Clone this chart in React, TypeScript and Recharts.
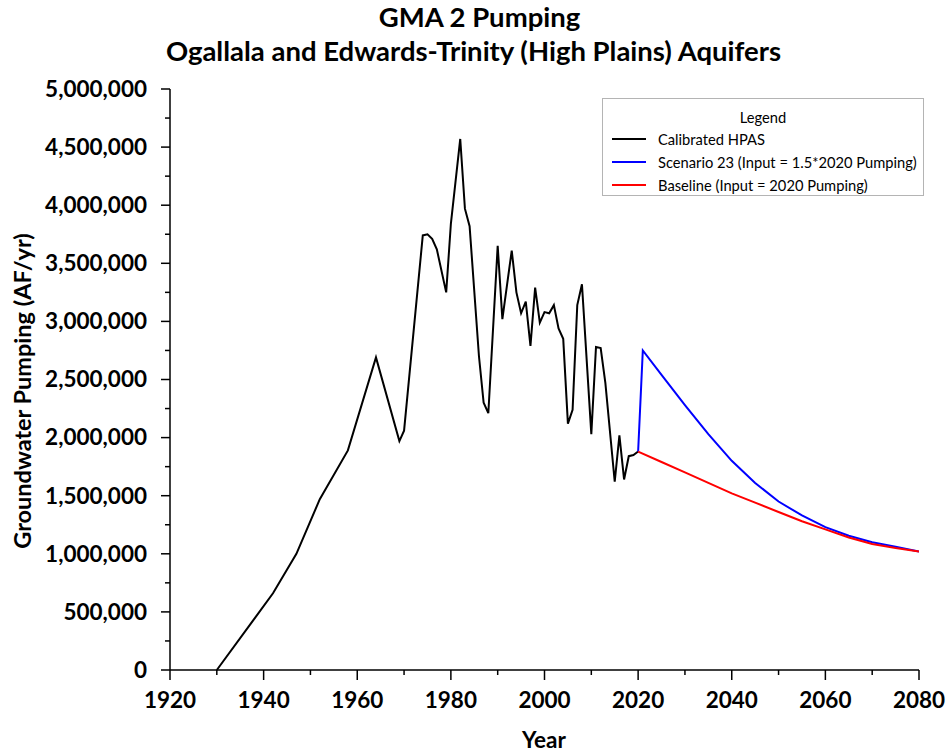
import { LineChart, Line, XAxis, YAxis, Legend } from 'recharts';

// calibrated HPAS pumping
const histYears = [1930, 1942, 1947, 1952, 1958, 1964, 1969, 1970, 1974, 1975, 1976, 1977, 1979, 1980, 1982, 1983, 1984, 1986, 1987, 1988, 1990, 1991, 1993, 1994, 1995, 1996, 1997, 1998, 1999, 2000, 2001, 2002, 2003, 2004, 2005, 2006, 2007, 2008, 2010, 2011, 2012, 2013, 2015, 2016, 2017, 2018, 2019, 2020];
const histPumping = [0, 660000, 1000000, 1470000, 1890000, 2690000, 1970000, 2060000, 3740000, 3750000, 3710000, 3620000, 3250000, 3840000, 4570000, 3970000, 3820000, 2700000, 2300000, 2210000, 3650000, 3020000, 3610000, 3250000, 3070000, 3170000, 2790000, 3290000, 2990000, 3080000, 3070000, 3140000, 2940000, 2850000, 2120000, 2240000, 3140000, 3320000, 2030000, 2780000, 2770000, 2470000, 1620000, 2020000, 1640000, 1840000, 1850000, 1880000];

const scenarioYears = [2020, 2021, 2025, 2030, 2035, 2040, 2045, 2050, 2055, 2060, 2065, 2070, 2075, 2080];
const scenarioPumping = [1880000, 2750000, 2540000, 2280000, 2030000, 1800000, 1610000, 1450000, 1330000, 1230000, 1155000, 1100000, 1060000, 1020000];

const baselineYears = [2020, 2025, 2030, 2035, 2040, 2045, 2050, 2055, 2060, 2065, 2070, 2075, 2080];
const baselinePumping = [1880000, 1790000, 1700000, 1610000, 1520000, 1440000, 1360000, 1280000, 1210000, 1140000, 1085000, 1050000, 1020000];

const xTicks = [1920, 1930, 1940, 1950, 1960, 1970, 1980, 1990, 2000, 2010, 2020, 2030, 2040, 2050, 2060, 2070, 2080];
const yTicks = [0, 250000, 500000, 750000, 1000000, 1250000, 1500000, 1750000, 2000000, 2250000, 2500000, 2750000, 3000000, 3250000, 3500000, 3750000, 4000000, 4250000, 4500000, 4750000, 5000000];

const seriesNames = ['Calibrated HPAS', 'Scenario 23 (Input = 1.5*2020 Pumping)', 'Baseline (Input = 2020 Pumping)'];
const seriesColors = ['#000000', '#0000ff', '#ff0000'];

const toRows = (years: number[], vals: number[]) => years.map((year, i) => ({ year, value: vals[i] }));

const FONT = 'Lato, "Open Sans", sans-serif';

const XTick = (props: any) => {
  const { x, y, payload } = props;
  const major = payload.value % 20 === 0;
  return (
    <g>
      <line x1={x} x2={x} y1={y} y2={y + (major ? 10 : 5)} stroke="#000" strokeWidth={1.5} />
      {major && (
        <text x={x} y={y + 38} textAnchor="middle" fontFamily={FONT} fontWeight={700} fontSize={22.5} fill="#000">
          {payload.value}
        </text>
      )}
    </g>
  );
};

const YTick = (props: any) => {
  const { x, y, payload } = props;
  const major = payload.value % 500000 === 0;
  return (
    <g>
      <line x1={x} x2={x - (major ? 9 : 5)} y1={y} y2={y} stroke="#000" strokeWidth={1.5} />
      {major && (
        <text x={x - 23} y={y} dy="0.35em" textAnchor="end" fontFamily={FONT} fontWeight={700} fontSize={22.5} fill="#000">
          {payload.value.toLocaleString('en-US')}
        </text>
      )}
    </g>
  );
};

const LegendBox = () => (
  <div style={{ width: 322, height: 98, border: '1px solid #b4b4b4', background: '#fff', boxSizing: 'border-box', fontFamily: FONT, fontSize: 14.7, color: '#000' }}>
    <div style={{ textAlign: 'center', marginTop: 10, marginBottom: 3, lineHeight: '16px' }}>Legend</div>
    {seriesNames.map((name, i) => (
      <div key={name} style={{ display: 'flex', alignItems: 'center', height: 22.7, paddingLeft: 9 }}>
        <span style={{ display: 'inline-block', width: 34, height: 2, background: seriesColors[i], marginRight: 12 }} />
        <span>{name}</span>
      </div>
    ))}
  </div>
);

export default function App() {
  return (
    <div style={{ position: 'absolute', left: 0, top: 0, width: 947, height: 751, background: '#fff' }}>
      <div style={{ position: 'absolute', left: 0, top: 0, width: 947, textAlign: 'center', fontFamily: FONT, fontWeight: 700, fontSize: 27.5, lineHeight: '34px' }}>
        <div style={{ marginLeft: 12 }}>GMA 2 Pumping</div>
        <div>Ogallala and Edwards-Trinity (High Plains) Aquifers</div>
      </div>
      <LineChart width={947} height={751} margin={{ top: 89, right: 28, bottom: 0, left: 0 }}>
        <XAxis
          dataKey="year"
          type="number"
          domain={[1920, 2080]}
          ticks={xTicks}
          interval={0}
          allowDataOverflow
          height={81}
          tickSize={0}
          tickMargin={0}
          tickLine={false}
          axisLine={{ stroke: '#000', strokeWidth: 1.5 }}
          tick={<XTick />}
        />
        <YAxis
          type="number"
          domain={[0, 5000000]}
          ticks={yTicks}
          interval={0}
          width={170}
          tickSize={0}
          tickMargin={0}
          tickLine={false}
          axisLine={{ stroke: '#000', strokeWidth: 1.5 }}
          tick={<YTick />}
        />
        <Legend
          layout="vertical"
          align="center"
          verticalAlign="middle"
          content={<LegendBox />}
          wrapperStyle={{ left: 602, top: 98, width: 322 }}
        />
        <Line data={toRows(histYears, histPumping)} dataKey="value" name={seriesNames[0]} stroke={seriesColors[0]} strokeWidth={2} dot={false} isAnimationActive={false} />
        <Line data={toRows(scenarioYears, scenarioPumping)} dataKey="value" name={seriesNames[1]} stroke={seriesColors[1]} strokeWidth={2} dot={false} isAnimationActive={false} />
        <Line data={toRows(baselineYears, baselinePumping)} dataKey="value" name={seriesNames[2]} stroke={seriesColors[2]} strokeWidth={2} dot={false} isAnimationActive={false} />
      </LineChart>
      <div style={{ position: 'absolute', left: 544, top: 739, transform: 'translate(-50%, -50%)', fontFamily: FONT, fontWeight: 700, fontSize: 22.5, whiteSpace: 'nowrap' }}>Year</div>
      <div style={{ position: 'absolute', left: 22, top: 391, transform: 'translate(-50%, -50%) rotate(-90deg)', fontFamily: FONT, fontWeight: 700, fontSize: 23.5, whiteSpace: 'nowrap' }}>Groundwater Pumping (AF/yr)</div>
    </div>
  );
}
